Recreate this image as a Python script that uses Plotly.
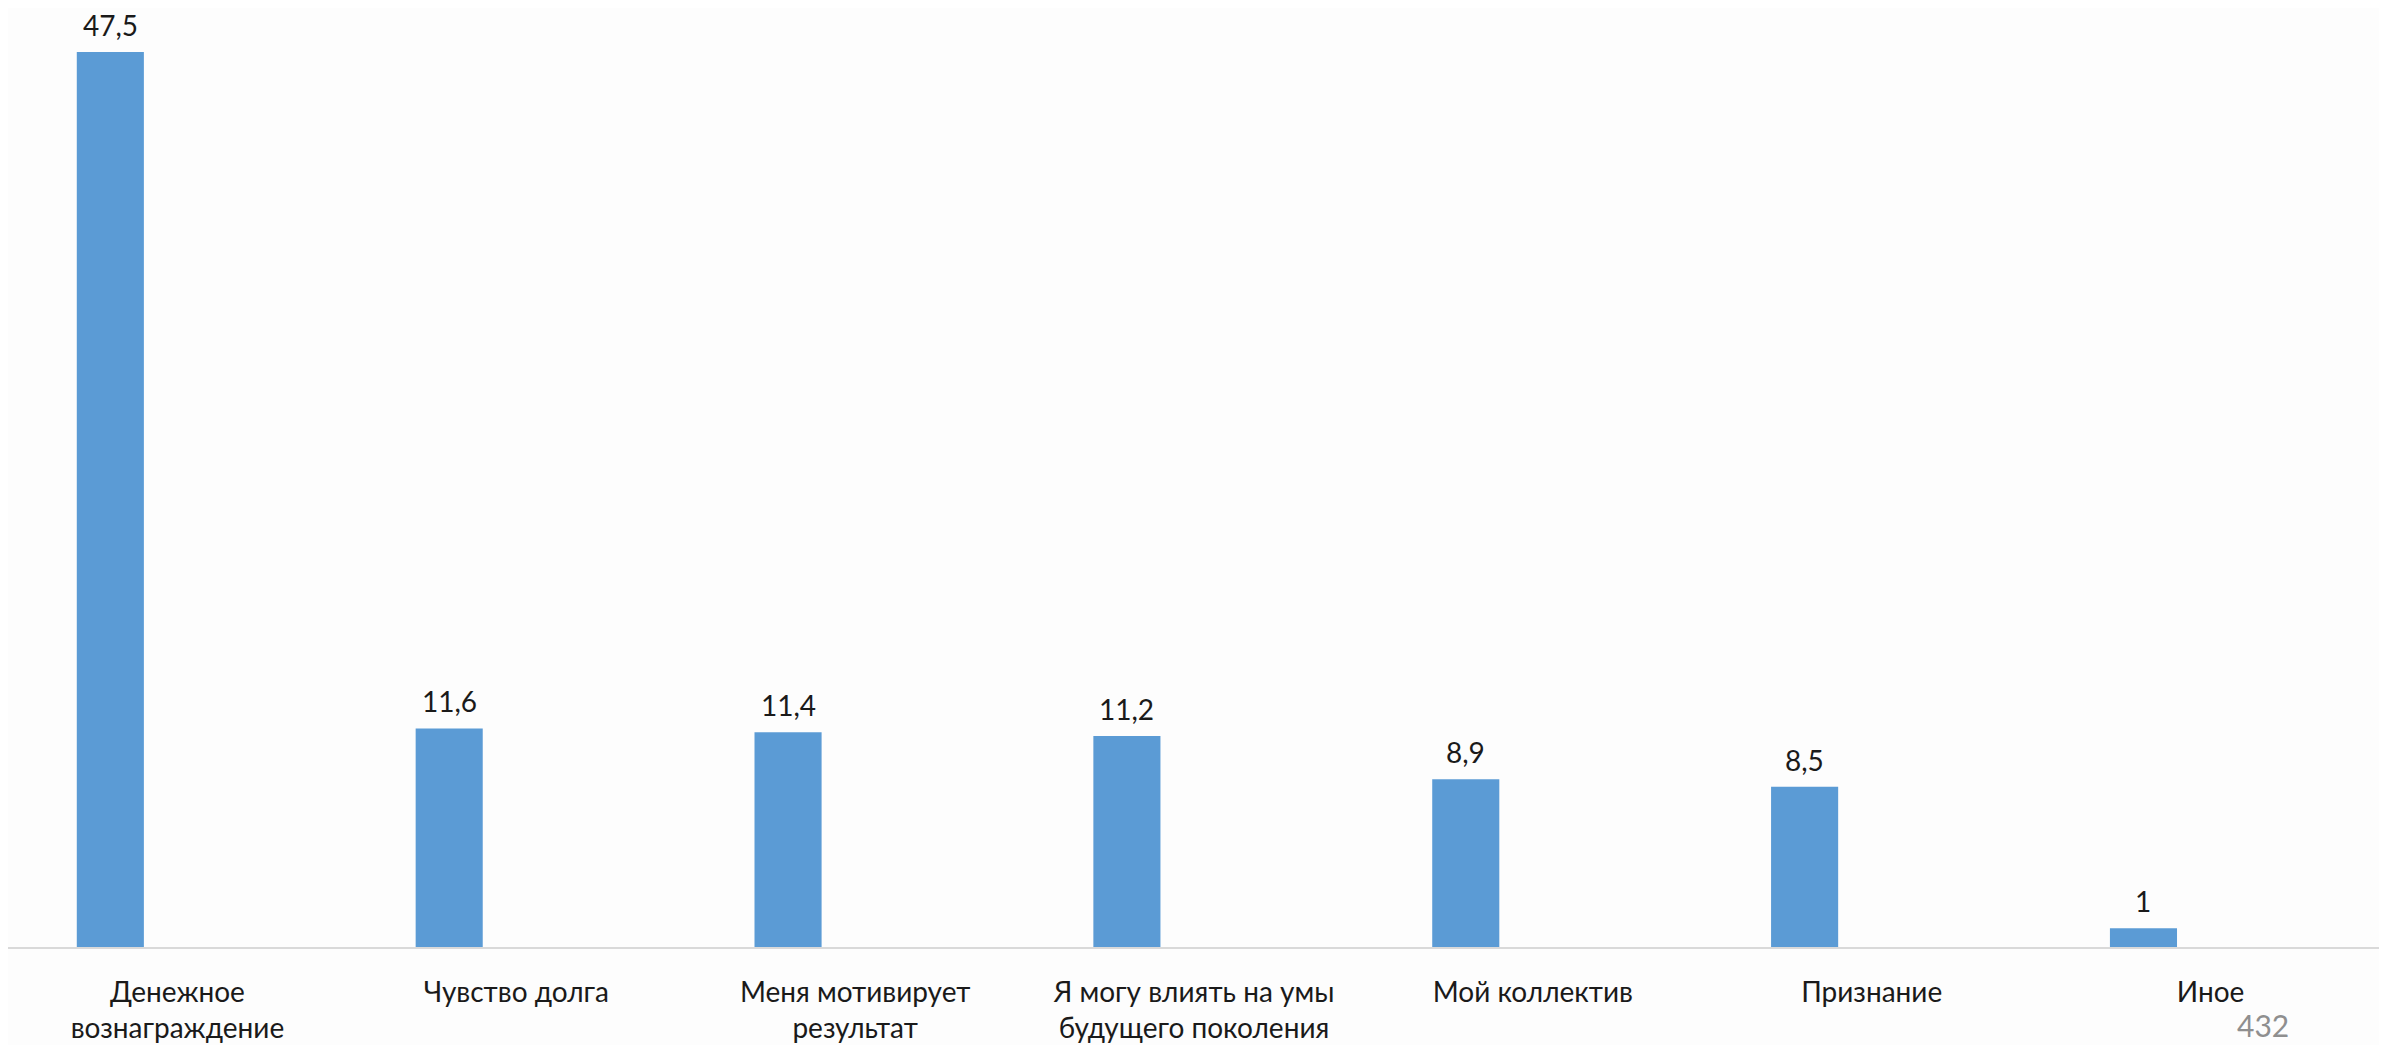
import plotly.graph_objects as go

categories = [
    "Денежное<br>вознаграждение",
    "Чувство долга",
    "Меня мотивирует<br>результат",
    "Я могу влиять на умы<br>будущего поколения",
    "Мой коллектив",
    "Признание",
    "Иное",
]
values = [47.5, 11.6, 11.4, 11.2, 8.9, 8.5, 1]
value_labels = ["47,5", "11,6", "11,4", "11,2", "8,9", "8,5", "1"]
footer_text = "432"

FONT = "Lato"
BAR_COLOR = "#5b9bd5"
BAR_W = 0.198
BAR_OFF = -0.297

idx = list(range(len(categories)))

fig = go.Figure()
fig.add_trace(go.Bar(
    x=idx, y=values, width=BAR_W, offset=BAR_OFF,
    marker=dict(color=BAR_COLOR, line=dict(width=0)),
    hoverinfo="skip",
))

for i, v, t in zip(idx, values, value_labels):
    fig.add_annotation(
        x=i + BAR_OFF + BAR_W / 2, y=v, xref="x", yref="y",
        text=t, showarrow=False, yanchor="bottom", yshift=8,
        font=dict(family=FONT, size=28, color="#1a1a1a"),
    )

fig.add_annotation(
    x=0.9507, y=-0.083, xref="paper", yref="paper",
    text=footer_text, showarrow=False, xanchor="center", yanchor="middle",
    font=dict(family=FONT, size=30, color="#8f8f8f"),
)

fig.update_layout(
    width=2379, height=1037,
    margin=dict(l=0, r=7, t=0, b=98, pad=0, autoexpand=False),
    paper_bgcolor="#fdfdfd", plot_bgcolor="#fdfdfd",
    showlegend=False,
    font=dict(family=FONT, size=28, color="#1a1a1a"),
    xaxis=dict(
        range=[-0.5, 6.5], tickmode="array", tickvals=idx, ticktext=categories,
        showgrid=False, zeroline=False, showline=True, linecolor="#d9d9d9",
        linewidth=2, ticks="", ticklabelstandoff=19, automargin=False,
        tickfont=dict(family=FONT, size=28, color="#1a1a1a"),
    ),
    yaxis=dict(range=[0, 49.84], visible=False, showgrid=False, zeroline=False,
               automargin=False),
)

fig.write_html("out.html")
